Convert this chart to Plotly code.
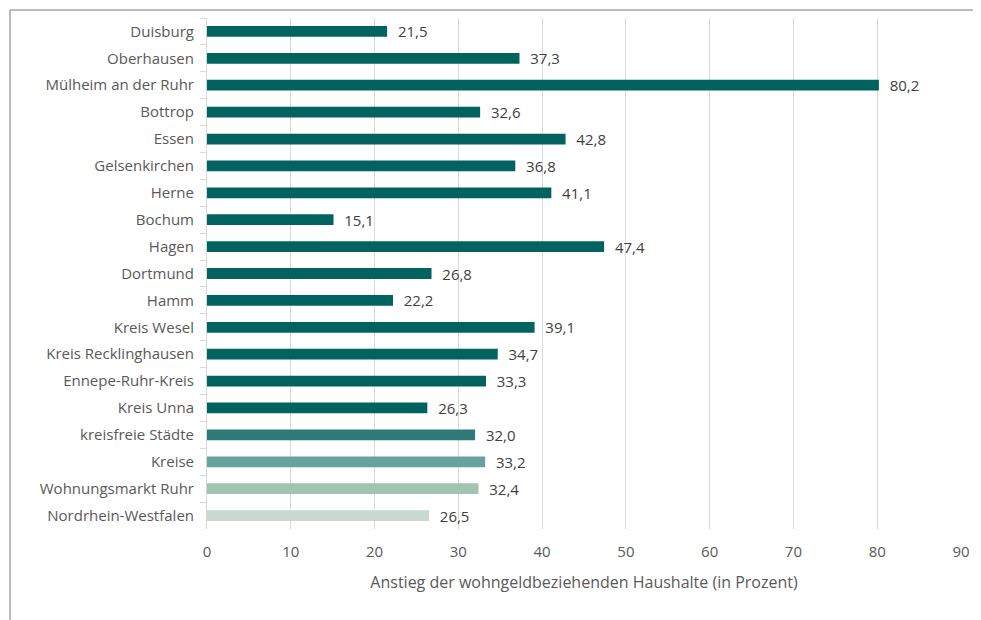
import plotly.graph_objects as go

# Regionen (von oben nach unten)
regions = [
    "Duisburg", "Oberhausen", "Mülheim an der Ruhr", "Bottrop", "Essen",
    "Gelsenkirchen", "Herne", "Bochum", "Hagen", "Dortmund", "Hamm",
    "Kreis Wesel", "Kreis Recklinghausen", "Ennepe-Ruhr-Kreis", "Kreis Unna",
    "kreisfreie Städte", "Kreise", "Wohnungsmarkt Ruhr", "Nordrhein-Westfalen",
]
# Anstieg der wohngeldbeziehenden Haushalte in %
increase = [
    21.5, 37.3, 80.2, 32.6, 42.8, 36.8, 41.1, 15.1, 47.4, 26.8, 22.2,
    39.1, 34.7, 33.3, 26.3, 32.0, 33.2, 32.4, 26.5,
]
bar_colors = ["#006360"] * 15 + ["#2e7a79", "#66a39c", "#a0c4b0", "#c8d8cc"]

x_ticks = list(range(0, 100, 10))

fig = go.Figure(go.Bar(
    y=regions,
    x=increase,
    orientation="h",
    marker=dict(color=bar_colors, line=dict(width=0)),
    width=0.4,
    text=["  " + f"{v:.1f}".replace(".", ",") for v in increase],
    textposition="outside",
    constraintext="none",
    textfont=dict(color="#404040", size=15, family="Open Sans, sans-serif"),
    cliponaxis=False,
))

# page body has an 8px margin, so the figure is 8px smaller and shifted
fig.update_layout(
    width=973, height=612,
    margin=dict(l=199, r=20, t=10, b=91),
    plot_bgcolor="white", paper_bgcolor="white",
    font=dict(family="Open Sans, sans-serif", size=15, color="#595959"),
    showlegend=False,
    xaxis=dict(
        range=[0, 90], tickvals=x_ticks, showgrid=True, gridcolor="#d9d9d9",
        gridwidth=1, zeroline=False, showline=False, ticks="",
        ticklabelstandoff=12,
        tickfont=dict(size=15, color="#595959"),
        title=dict(text="Anstieg der wohngeldbeziehenden Haushalte (in Prozent)",
                   font=dict(size=16, color="#595959"), standoff=16),
    ),
    yaxis=dict(
        autorange="reversed", showline=True, linecolor="#d9d9d9",
        ticks="outside", tickson="boundaries", ticklen=6, tickcolor="#d9d9d9",
        ticklabelstandoff=9,
        tickfont=dict(size=15, color="#595959"),
    ),
    shapes=[
        dict(type="line", xref="paper", yref="paper",
             x0=-0.2613, x1=1.03, y0=1.0157, y1=1.0157,
             line=dict(color="#a6a6a6", width=1.5)),
        dict(type="line", xref="paper", yref="paper",
             x0=-0.2613, x1=-0.2613, y0=1.0157, y1=-0.2,
             line=dict(color="#a6a6a6", width=1.5)),
    ],
)

fig.write_html("out.html")
